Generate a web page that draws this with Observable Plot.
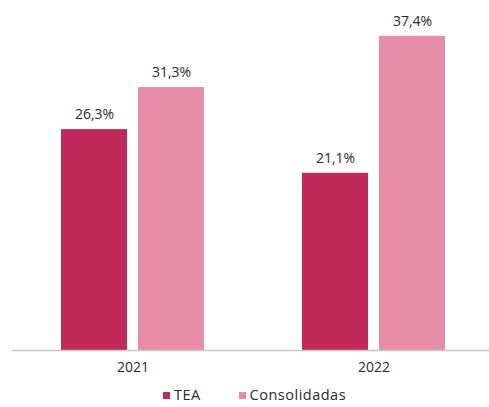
<!DOCTYPE html>
<html>
<head>
<meta charset="utf-8">
<script src="https://cdn.jsdelivr.net/npm/d3@7"></script>
<script src="https://cdn.jsdelivr.net/npm/@observablehq/plot@0.6"></script>
<style>
  body { margin: 0; background: #fff; font-family: "Open Sans", sans-serif; }
  #chart { width: 489px; }
  .lg-swatches { display: flex; justify-content: center; align-items: center; margin: 6px 0 0 20px; min-height: 18px; height: 18px; font-family: "Open Sans", sans-serif; font-size: 14.5px; line-height: 18px; letter-spacing: 0.5px; color: #2a2a2a; }
  .lg-swatch { display: inline-flex; align-items: center; margin-right: 38px; }
  .lg-swatch:last-child { margin-right: 0; }
  .lg-swatch svg { margin-right: 4px; }
</style>
</head>
<body>
<div id="chart"></div>
<script>
const years = ["2021", "2022"];
const series = ["TEA", "Consolidadas"];
const teaValues = [26.3, 21.1];
const consolidadasValues = [31.3, 37.4];
const seriesColors = ["#C0295A", "#E68CA8"];

const teaData = years.map((y, i) => ({year: y, series: "TEA", value: teaValues[i]}));
const consData = years.map((y, i) => ({year: y, series: "Consolidadas", value: consolidadasValues[i]}));

const fmt = v => v.toFixed(1).replace(".", ",") + "%";

const plot = Plot.plot({
  width: 489,
  height: 380,
  marginTop: 14,
  marginBottom: 30,
  marginLeft: 12,
  marginRight: 0,
  style: {fontFamily: "Open Sans, sans-serif", fontSize: "14px", color: "#2a2a2a", background: "#fff"},
  x: {domain: years, range: [12, 494], paddingInner: 0.407, paddingOuter: 0.203, label: null, tickSize: 0, tickPadding: 12},
  y: {domain: [0, 40], axis: null},
  color: {domain: series, range: seriesColors},
  marks: [
    Plot.barY(teaData, {x: "year", y: "value", fill: "series", insetRight: 77}),
    Plot.barY(consData, {x: "year", y: "value", fill: "series", insetLeft: 77}),
    Plot.text(teaData, {x: "year", y: "value", text: d => fmt(d.value), dx: -38.5, dy: -15, fill: "#2a2a2a", fontSize: 14}),
    Plot.text(consData, {x: "year", y: "value", text: d => fmt(d.value), dx: 38.5, dy: -15, fill: "#2a2a2a", fontSize: 14}),
    Plot.ruleY([0], {stroke: "#c6c6c6", strokeWidth: 1.5})
  ]
});
document.getElementById("chart").appendChild(plot);

const legend = Plot.legend({
  color: {domain: series, range: seriesColors},
  swatchSize: 7,
  className: "lg"
});
document.getElementById("chart").appendChild(legend);
</script>
</body>
</html>
